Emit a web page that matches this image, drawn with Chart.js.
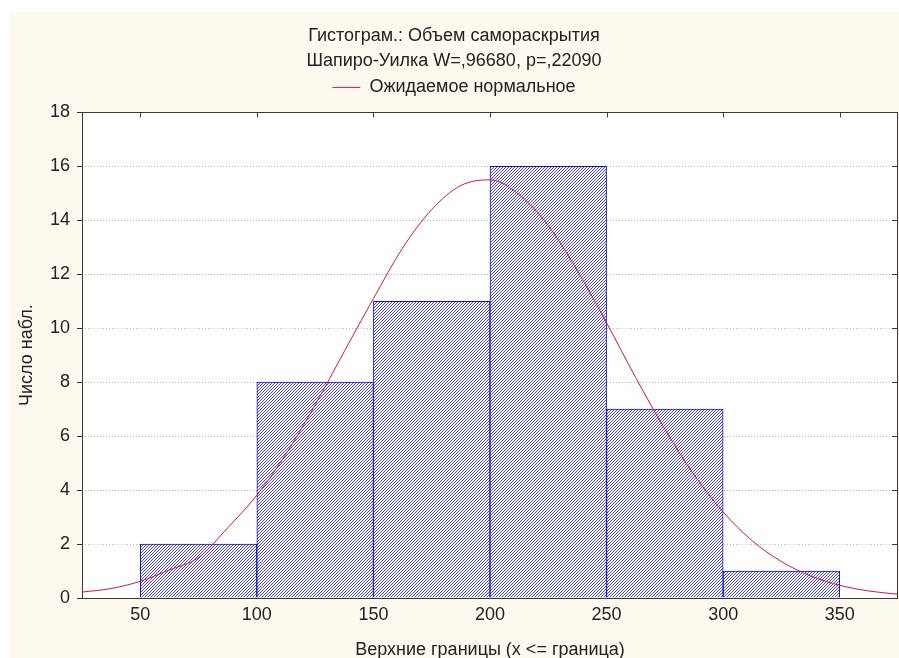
<!DOCTYPE html>
<html>
<head>
<meta charset="utf-8">
<script src="https://cdn.jsdelivr.net/npm/chart.js@4/dist/chart.umd.min.js"></script>
<style>
  html, body { margin: 0; padding: 0; background: #ffffff; }
  #wrap {
    position: absolute; left: 10px; top: 12px;
    width: 889px; height: 646px;
    background: #fef9ef;
  }
</style>
</head>
<body>
<div id="wrap"><canvas id="chart" width="889" height="646"></canvas></div>
<script>
// histogram bins (upper bounds) and counts
const binMids = [75, 125, 175, 225, 275, 325];
const binCounts = [2, 8, 11, 16, 7, 1];

// expected normal curve
const curveX = [25, 37.5, 50, 62.5, 75, 87.5, 100, 112.5, 125, 137.5, 150, 162.5, 175, 187.5,
  200, 212.5, 225, 237.5, 250, 262.5, 275, 287.5, 300, 312.5, 325, 337.5, 350, 362.5, 375];
const curveY = [0.22, 0.35, 0.62, 1.04, 1.5, 2.6, 3.81, 5.34, 7.16, 9.14, 11.1, 12.97, 14.4, 15.29,
  15.5, 14.95, 13.8, 12.13, 10.2, 8.17, 6.26, 4.57, 3.19, 2.12, 1.35, 0.82, 0.47, 0.26, 0.14];

const xTicks = [50, 100, 150, 200, 250, 300, 350];
const yTicks = [0, 2, 4, 6, 8, 10, 12, 14, 16, 18];

const FONT = "'Liberation Sans', Arial, sans-serif";

// diagonal hatch like the original
function makeHatch() {
  const c = document.createElement('canvas');
  c.width = 3; c.height = 3;
  const g = c.getContext('2d');
  g.fillStyle = '#ffffff';
  g.fillRect(0, 0, 3, 3);
  g.fillStyle = '#4444c8';
  for (let y = 0; y < 3; y++) {
    g.fillRect(2 - y, y, 1, 1);
  }
  return g.createPattern(c, 'repeat');
}

// white plot area, frame and small inward ticks on top / right
const frame = {
  id: 'frame',
  afterInit(chart) {
    // a bit more room between the legend and the plot
    const lg = chart.legend;
    if (lg) {
      const fit = lg.fit.bind(lg);
      lg.fit = () => { fit(); lg.height += 6; };
    }
  },
  beforeDraw(chart) {
    const { ctx, chartArea: a } = chart;
    ctx.save();
    ctx.fillStyle = '#ffffff';
    ctx.fillRect(a.left, a.top, a.right - a.left, a.bottom - a.top);
    ctx.restore();
  },
  afterDatasetsDraw(chart) {
    const { ctx, chartArea: a, scales } = chart;
    ctx.save();
    ctx.strokeStyle = '#3a3a3a';
    ctx.lineWidth = 1;
    ctx.strokeRect(Math.round(a.left) + 0.5, Math.round(a.top) + 0.5,
      Math.round(a.right - a.left) - 1, Math.round(a.bottom - a.top));
    ctx.beginPath();
    xTicks.forEach(v => {
      const px = Math.round(scales.x.getPixelForValue(v)) + 0.5;
      ctx.moveTo(px, a.top);
      ctx.lineTo(px, a.top + 5);
    });
    yTicks.forEach(v => {
      const py = Math.round(scales.y.getPixelForValue(v)) + 0.5;
      ctx.moveTo(a.right - 1, py);
      ctx.lineTo(a.right - 6, py);
    });
    ctx.stroke();
    ctx.restore();
  }
};

new Chart(document.getElementById('chart'), {
  type: 'bar',
  data: {
    datasets: [
      {
        type: 'line',
        label: 'Ожидаемое нормальное',
        data: curveX.map((x, i) => ({ x: x, y: curveY[i] })),
        borderColor: '#cc1a3c',
        backgroundColor: '#cc1a3c',
        borderWidth: 1,
        pointRadius: 0,
        pointStyle: 'line',
        cubicInterpolationMode: 'monotone',
        order: 0
      },
      {
        label: 'hist',
        data: binMids.map((x, i) => ({ x: x, y: binCounts[i] })),
        backgroundColor: makeHatch(),
        borderColor: '#1010c8',
        borderWidth: 1,
        barPercentage: 1,
        categoryPercentage: 1,
        order: 1
      }
    ]
  },
  options: {
    responsive: false,
    animation: false,
    layout: { padding: { left: 0, right: 1, top: 0, bottom: 0 } },
    plugins: {
      title: {
        display: true,
        text: ['Гистограм.: Объем самораскрытия', 'Шапиро-Уилка W=,96680, p=,22090'],
        color: '#222',
        font: { family: FONT, size: 18, weight: 'normal', lineHeight: 1.4 },
        padding: { top: 11, bottom: -10 }
      },
      legend: {
        display: true,
        labels: {
          filter: item => item.datasetIndex === 0,
          usePointStyle: true,
          pointStyleWidth: 28,
          boxHeight: 8,
          color: '#222',
          font: { family: FONT, size: 18 },
          padding: 15
        }
      },
      tooltip: { enabled: false }
    },
    scales: {
      x: {
        type: 'linear',
        min: 25,
        max: 375,
        offset: false,
        afterBuildTicks: s => { s.ticks = xTicks.map(v => ({ value: v })); },
        afterFit: s => { s.height = 60; },
        grid: { display: false, drawTicks: false, offset: false },
        border: { display: false },
        ticks: { color: '#222', font: { family: FONT, size: 18 }, padding: 6 },
        title: {
          display: true,
          text: 'Верхние границы (x <= граница)',
          color: '#222',
          font: { family: FONT, size: 18 },
          padding: { top: 2, bottom: -3 }
        }
      },
      y: {
        min: 0,
        max: 18,
        afterBuildTicks: s => { s.ticks = yTicks.map(v => ({ value: v })); },
        afterFit: s => { s.width = 72; },
        grid: {
          color: ctx => (ctx.tick && (ctx.tick.value === 0 || ctx.tick.value === 18)) ? 'rgba(0,0,0,0)' : '#b8b8b8',
          tickColor: '#333',
          tickLength: 5,
          drawTicks: true
        },
        border: { display: false, dash: [1, 2] },
        ticks: { color: '#222', font: { family: FONT, size: 18 }, padding: 7 },
        title: {
          display: true,
          text: 'Число набл.',
          color: '#222',
          font: { family: FONT, size: 18 },
          padding: { top: 6, bottom: 4 }
        }
      }
    }
  },
  plugins: [frame]
});
</script>
</body>
</html>
